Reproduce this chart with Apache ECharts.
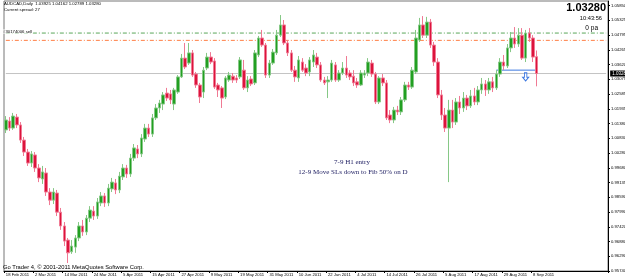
<!DOCTYPE html>
<html><head><meta charset="utf-8">
<script src="https://cdn.jsdelivr.net/npm/echarts/dist/echarts.min.js"></script>
<style>html,body{margin:0;padding:0;background:#fff}#c{width:625px;height:279px}</style>
</head><body><div id="c"></div>
<script>
// ---- data ----
const dateLabels = ['18 Feb 2011','2 Mar 2011','14 Mar 2011','24 Mar 2011','5 Apr 2011','15 Apr 2011','27 Apr 2011','9 May 2011','19 May 2011','31 May 2011','10 Jun 2011','22 Jun 2011','4 Jul 2011','14 Jul 2011','26 Jul 2011','5 Aug 2011','17 Aug 2011','29 Aug 2011','8 Sep 2011'];
const priceLabels = ['0.95740','0.96290','0.96880','0.97420','0.97990','0.98590','0.99135','0.99680','1.00280','1.00830','1.01380','1.01935','1.02585','1.03075','1.03620','1.04265','1.04795','1.05325','1.05850'];
const opens = [1.0112,1.0146,1.0119,1.0161,1.0131,1.0073,1.0027,0.9985,1.0016,0.9966,0.9924,0.9947,0.9874,0.9843,0.9870,0.9797,0.9744,0.9690,0.9645,0.9663,0.9698,0.9744,0.9721,0.9774,0.9801,0.9782,0.9832,0.9859,0.9832,0.9886,0.9909,0.9882,0.9932,0.9966,0.9943,1.0004,1.0039,1.0020,1.0077,1.0119,1.0096,1.0158,1.0196,1.0211,1.0253,1.0250,1.0211,1.0257,1.0315,1.0387,1.0368,1.0407,1.0326,1.0284,1.0257,1.0349,1.0391,1.0376,1.0284,1.0273,1.0238,1.0303,1.0318,1.0311,1.0315,1.0341,1.0273,1.0307,1.0292,1.0399,1.0464,1.0437,1.0322,1.0368,1.0407,1.0475,1.0514,1.0445,1.0407,1.0341,1.0311,1.0372,1.0349,1.0334,1.0372,1.0391,1.0361,1.0303,1.0296,1.0303,1.0361,1.0303,1.0330,1.0349,1.0330,1.0318,1.0296,1.0284,1.0322,1.0330,1.0368,1.0326,1.0219,1.0311,1.0292,1.0169,1.0150,1.0188,1.0181,1.0227,1.0284,1.0276,1.0334,1.0456,1.0514,1.0475,1.0525,1.0437,1.0372,1.0246,1.0169,1.0119,1.0188,1.0142,1.0219,1.0196,1.0234,1.0204,1.0242,1.0219,1.0265,1.0288,1.0265,1.0296,1.0273,1.0326,1.0372,1.0357,1.0426,1.0464,1.0441,1.0475,1.0387,1.0483,1.0464,1.03925];
const closes = [1.0150,1.0119,1.0165,1.0131,1.0073,1.0027,0.9985,1.0020,0.9966,0.9928,0.9951,0.9874,0.9843,0.9874,0.9797,0.9744,0.9686,0.9641,0.9667,0.9698,0.9744,0.9721,0.9774,0.9805,0.9782,0.9836,0.9859,0.9832,0.9889,0.9912,0.9882,0.9935,0.9966,0.9943,1.0004,1.0043,1.0020,1.0081,1.0119,1.0096,1.0158,1.0196,1.0215,1.0246,1.0234,1.0227,1.0265,1.0315,1.0387,1.0353,1.0407,1.0322,1.0284,1.0238,1.0341,1.0391,1.0372,1.0276,1.0265,1.0234,1.0311,1.0322,1.0303,1.0303,1.0380,1.0273,1.0303,1.0288,1.0407,1.0464,1.0437,1.0322,1.0368,1.0410,1.0475,1.0514,1.0445,1.0407,1.0341,1.0315,1.0380,1.0341,1.0330,1.0380,1.0399,1.0361,1.0303,1.0292,1.0303,1.0368,1.0303,1.0330,1.0349,1.0322,1.0315,1.0292,1.0284,1.0330,1.0330,1.0372,1.0326,1.0219,1.0311,1.0292,1.0158,1.0150,1.0188,1.0181,1.0227,1.0284,1.0276,1.0341,1.0464,1.0514,1.0475,1.0525,1.0437,1.0372,1.0246,1.0169,1.0119,1.0188,1.0142,1.0219,1.0196,1.0234,1.0204,1.0242,1.0219,1.0265,1.0288,1.0265,1.0296,1.0273,1.0326,1.0372,1.0357,1.0426,1.0464,1.0441,1.0475,1.0387,1.0483,1.0464,1.0391,1.03280];
const lows = [1.0100,1.0108,1.0112,1.0119,1.0062,1.0012,0.9974,0.9970,0.9951,0.9912,0.9905,0.9859,0.9824,0.9828,0.9782,0.9729,0.9667,0.9602,0.9637,0.9641,0.9686,0.9706,0.9709,0.9759,0.9767,0.9771,0.9820,0.9817,0.9820,0.9874,0.9866,0.9870,0.9920,0.9928,0.9932,0.9993,1.0004,1.0008,1.0066,1.0085,1.0085,1.0150,1.0177,1.0188,1.0223,1.0211,1.0188,1.0250,1.0311,1.0345,1.0361,1.0315,1.0273,1.0215,1.0234,1.0341,1.0364,1.0269,1.0238,1.0196,1.0230,1.0296,1.0292,1.0292,1.0307,1.0265,1.0257,1.0280,1.0284,1.0391,1.0430,1.0311,1.0311,1.0361,1.0399,1.0468,1.0437,1.0395,1.0334,1.0296,1.0296,1.0334,1.0318,1.0318,1.0353,1.0349,1.0296,1.0284,1.0234,1.0296,1.0296,1.0296,1.0322,1.0311,1.0303,1.0280,1.0273,1.0280,1.0311,1.0318,1.0315,1.0211,1.0211,1.0280,1.0150,1.0138,1.0138,1.0169,1.0169,1.0219,1.0265,1.0269,1.0326,1.0449,1.0464,1.0464,1.0426,1.0357,1.0234,1.0150,1.0104,0.9912,1.0119,1.0131,1.0173,1.0181,1.0188,1.0196,1.0207,1.0207,1.0250,1.0242,1.0250,1.0257,1.0265,1.0315,1.0341,1.0349,1.0410,1.0426,1.0430,1.0380,1.0372,1.0449,1.0372,1.02789];
const highs = [1.0165,1.0161,1.0177,1.0173,1.0142,1.0085,1.0039,1.0031,1.0027,0.9981,0.9974,0.9966,0.9889,0.9889,0.9882,0.9813,0.9759,0.9698,0.9690,0.9709,0.9759,0.9767,0.9786,0.9820,0.9820,0.9851,0.9874,0.9870,0.9905,0.9928,0.9924,0.9951,0.9981,0.9978,1.0020,1.0058,1.0054,1.0096,1.0135,1.0135,1.0173,1.0211,1.0227,1.0257,1.0273,1.0265,1.0273,1.0322,1.0403,1.0445,1.0445,1.0418,1.0334,1.0292,1.0353,1.0407,1.0410,1.0387,1.0292,1.0280,1.0318,1.0334,1.0330,1.0322,1.0391,1.0380,1.0318,1.0318,1.0418,1.0472,1.0495,1.0445,1.0380,1.0422,1.0495,1.0552,1.0533,1.0456,1.0418,1.0357,1.0395,1.0387,1.0364,1.0391,1.0418,1.0407,1.0372,1.0315,1.0318,1.0380,1.0372,1.0341,1.0372,1.0395,1.0341,1.0341,1.0311,1.0341,1.0341,1.0387,1.0380,1.0334,1.0318,1.0326,1.0303,1.0188,1.0200,1.0204,1.0238,1.0296,1.0296,1.0353,1.0495,1.0541,1.0548,1.0545,1.0537,1.0449,1.0387,1.0265,1.0196,1.0227,1.0227,1.0234,1.0242,1.0257,1.0246,1.0265,1.0273,1.0280,1.0311,1.0303,1.0311,1.0315,1.0341,1.0387,1.0399,1.0441,1.0487,1.0506,1.0502,1.0502,1.0495,1.0502,1.0475,1.04162];
const entryPrice = 1.0483;   // #30174006 sell
const levelPrice = 1.0455;   // orange level
const bidPrice = 1.03280;
const blueLinePrice = 1.0341;
const arrowPrice = 1.0315;
const headerText = 'AUDCAD,Daily  1.03925 1.04162 1.02789 1.03280';
const spreadText = 'Current spread: 27';

// ---- categories: trading days from 18 Feb 2011 ----
const MON = ['Jan','Feb','Mar','Apr','May','Jun','Jul','Aug','Sep','Oct','Nov','Dec'];
const categories = [];
let d = new Date(Date.UTC(2011,1,18));
while (categories.length < opens.length) {
  const wd = d.getUTCDay();
  if (wd !== 0 && wd !== 6) categories.push(d.getUTCDate()+' '+MON[d.getUTCMonth()]+' '+d.getUTCFullYear());
  d = new Date(d.getTime()+86400000);
}
const TOTAL = 165;
for (let i = categories.length; i < TOTAL; i++) categories.push('pad'+i);
const labelSet = new Set(dateLabels);
const LAST = TOTAL - 1;

// price scale (fixed extent) and a companion tick axis measured in tick steps
const yMin = 0.95715, yMax = 1.06058, yStep = 0.00565;
const stepMax = (yMax - yMin) / yStep;
const candles = opens.map((o,i)=>[o, closes[i], lows[i], highs[i]]);

const FONT = 'Liberation Sans';
const hline = (price, color, type) => ({type:'line', yAxisIndex:0, data:[[0, price],[LAST, price]], symbol:'none', silent:true,
  lineStyle:{color, type, width:1}, z:1});

const chart = echarts.init(document.getElementById('c'), null, {renderer:'canvas'});
chart.setOption({
  animation:false,
  backgroundColor:'#fff',
  grid:{left:4, right:17, top:1, bottom:8, show:true, borderColor:'#777', borderWidth:1, containLabel:false, outerBoundsMode:'none'},
  xAxis:{type:'category', data:categories, boundaryGap:true,
    axisLine:{show:true, lineStyle:{color:'#000', width:1}},
    axisTick:{show:true, length:2, interval:(i,v)=>labelSet.has(v), lineStyle:{color:'#000'}},
    axisLabel:{interval:(i,v)=>labelSet.has(v), formatter:v=>labelSet.has(v)?v:'', align:'left', fontSize:4.2, fontFamily:FONT, color:'#000', margin:2},
    splitLine:{show:false}},
  yAxis:[
    {type:'value', position:'right', min:yMin, max:yMax, show:false, splitLine:{show:false}},
    {type:'value', position:'right', min:0, max:stepMax, interval:1,
      axisLine:{show:true, lineStyle:{color:'#000'}},
      axisTick:{show:true, length:2, lineStyle:{color:'#000'}},
      splitLine:{show:false},
      axisLabel:{fontSize:4.2, fontFamily:FONT, color:'#000', margin:3, showMaxLabel:false,
        formatter:v=>{const i=Math.round(v); return (Math.abs(v-i)<1e-6 && priceLabels[i])?priceLabels[i]:'';}}}
  ],
  series:[
    hline(entryPrice, '#5aa65a', [4,2,1,2]),
    hline(levelPrice, '#ff7f45', [4,2,1,2]),
    Object.assign(hline(bidPrice, '#c4c4c4', 'solid'), {endLabel:{show:true, formatter:'1.03280', backgroundColor:'#000', color:'#fff', fontSize:4.5, fontFamily:FONT, padding:[1,3,0,2], distance:4}}),
    {type:'line', yAxisIndex:0, data:[[134, blueLinePrice],[145, blueLinePrice]], symbol:'none', silent:true, lineStyle:{color:'#3c78e0', width:1}, z:1},
    {type:'candlestick', yAxisIndex:0, data:candles, barWidth:3, z:3,
      itemStyle:{color:'#22a022', color0:'#dc143c', borderColor:'#86c886', borderColor0:'#f07a94', borderWidth:1}},
    {type:'scatter', yAxisIndex:0, data:[[142, arrowPrice]], silent:true, z:4,
      symbol:'path://M3,0 L7,0 L7,6 L10,6 L5,11 L0,6 L3,6 Z', symbolSize:[6,8],
      itemStyle:{color:'#fff', borderColor:'#3c78e0', borderWidth:1, opacity:1}}
  ],
  graphic:[
    {type:'text', x:4, y:2, z:10, style:{text:headerText, fontSize:4.3, fontFamily:FONT, fill:'#000'}},
    {type:'text', x:4, y:8, z:10, style:{text:spreadText, fontSize:4.3, fontFamily:FONT, fill:'#000'}},
    {type:'text', x:3, y:29.5, z:10, style:{text:'#30174006 sell', fontSize:4.3, fontFamily:FONT, fill:'#000', backgroundColor:'#fff', padding:[0,1,0,0]}},
    {type:'text', x:606, y:2, z:10, style:{text:'1.03280', align:'right', fontSize:11, fontWeight:'bold', fontFamily:FONT, fill:'#000'}},
    {type:'text', x:602, y:15, z:10, style:{text:'10:43:56', align:'right', fontSize:5.7, fontFamily:FONT, fill:'#000'}},
    {type:'text', x:598, y:25, z:10, style:{text:'0 pa', align:'right', fontSize:6.5, fontFamily:FONT, fill:'#000'}},
    {type:'text', x:352, y:159, z:10, style:{text:'7-9 H1 entry', align:'center', fontSize:7, fontFamily:'Liberation Serif', fill:'#1c1c60'}},
    {type:'text', x:353, y:169, z:10, style:{text:'12-9 Move SLs down to Fib 50% on D', align:'center', fontSize:7, fontFamily:'Liberation Serif', fill:'#1c1c60'}},
    {type:'text', x:3, y:264, z:10, style:{text:'Go Trader 4, \u00a9 2001-2011 MetaQuotes Software Corp.', fontSize:5.8, fontFamily:FONT, fill:'#000'}}
  ]
});
</script></body></html>
